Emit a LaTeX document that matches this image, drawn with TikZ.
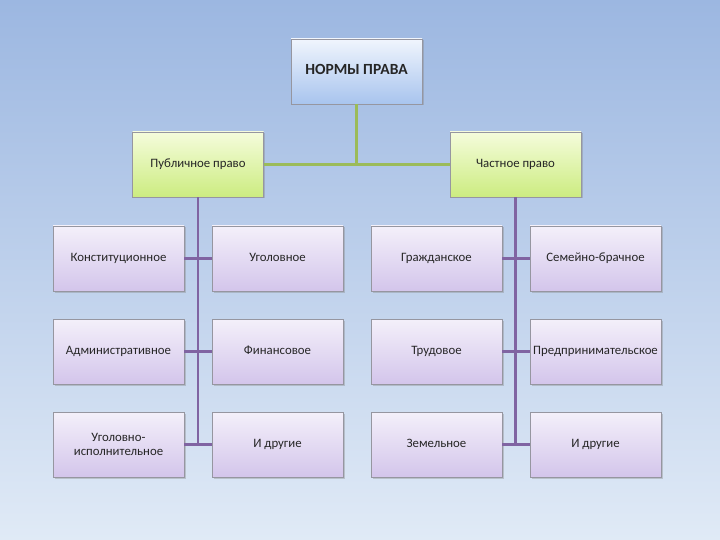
\documentclass[tikz,border=0pt]{standalone}
\usepackage{fontspec}
\setmainfont{Carlito}
\usetikzlibrary{positioning,shadows}
\definecolor{bgtop}{RGB}{156,183,225}
\definecolor{bgbot}{RGB}{224,234,246}
\definecolor{topA}{RGB}{240,245,253}
\definecolor{topB}{RGB}{168,196,238}
\definecolor{grnA}{RGB}{245,252,220}
\definecolor{grnB}{RGB}{204,236,128}
\definecolor{vioA}{RGB}{244,240,250}
\definecolor{vioB}{RGB}{211,197,235}
\definecolor{grnline}{RGB}{155,187,89}
\definecolor{violine}{RGB}{128,100,162}
\definecolor{boxline}{RGB}{150,150,160}

\begin{document}
\begin{tikzpicture}[
  x=1pt,y=-1pt,
  box/.style={draw=boxline, line width=0.6pt, minimum width=131pt, minimum height=65pt, align=center,
    font=\fontsize{12.8}{14.5}\selectfont, text=black!85, inner sep=2pt,
    text height=1.6ex, text depth=0.5ex,
    drop shadow={opacity=0.35, shadow xshift=1.5pt, shadow yshift=-1.5pt}},
  rootbox/.style={box, top color=topA, bottom color=topB, font=\bfseries\fontsize{15.5}{18}\selectfont},
  branchbox/.style={box, top color=grnA, bottom color=grnB},
  leafbox/.style={box, top color=vioA, bottom color=vioB},
  twoline/.style={text height={}, text depth={}},
  glink/.style={draw=grnline, line width=2.5pt},
  vlink/.style={draw=violine, line width=2.8pt}
]
\shade[top color=bgtop, bottom color=bgbot] (0,0) rectangle (720,540);
\useasboundingbox (0,0) rectangle (720,540);

\node[rootbox] (norms) at (356.5,71.5) {НОРМЫ ПРАВА};
\node[branchbox] (pub) at (198,164.5) {Публичное право};
\node[branchbox] (priv) at (515.5,164.5) {Частное право};

% публичное право
\node[leafbox] (konst) at (118.5,258.5) {Конституционное};
\node[leafbox] (ugol) at (277.5,258.5) {Уголовное};
\node[leafbox] (admin) at (118.5,351.5) {Административное};
\node[leafbox] (fin) at (277.5,351.5) {Финансовое};
\node[leafbox, twoline] (ugisp) at (118.5,444.5) {Уголовно-\\исполнительное};
\node[leafbox] (pubother) at (277.5,444.5) {И другие};

% частное право
\node[leafbox] (grazh) at (436.5,258.5) {Гражданское};
\node[leafbox] (sem) at (595.5,258.5) {Семейно-брачное};
\node[leafbox] (trud) at (436.5,351.5) {Трудовое};
\node[leafbox] (pred) at (595.5,351.5) {Предпринимательское};
\node[leafbox] (zem) at (436.5,444.5) {Земельное};
\node[leafbox] (privother) at (595.5,444.5) {И другие};

\coordinate (pubend) at (pub |- ugisp);
\coordinate (privend) at (priv |- zem);

% связи
\draw[glink] (norms.south) -- (norms |- pub);
\draw[glink] (pub.east) -- (priv.west);
\draw[vlink] (pub.south) -- (pubend);
\draw[vlink] (priv.south) -- (privend);
\draw[vlink] (konst.east) -- (ugol.west);
\draw[vlink] (admin.east) -- (fin.west);
\draw[vlink] (ugisp.east) -- (pubother.west);
\draw[vlink] (grazh.east) -- (sem.west);
\draw[vlink] (trud.east) -- (pred.west);
\draw[vlink] (zem.east) -- (privother.west);
\end{tikzpicture}
\end{document}
